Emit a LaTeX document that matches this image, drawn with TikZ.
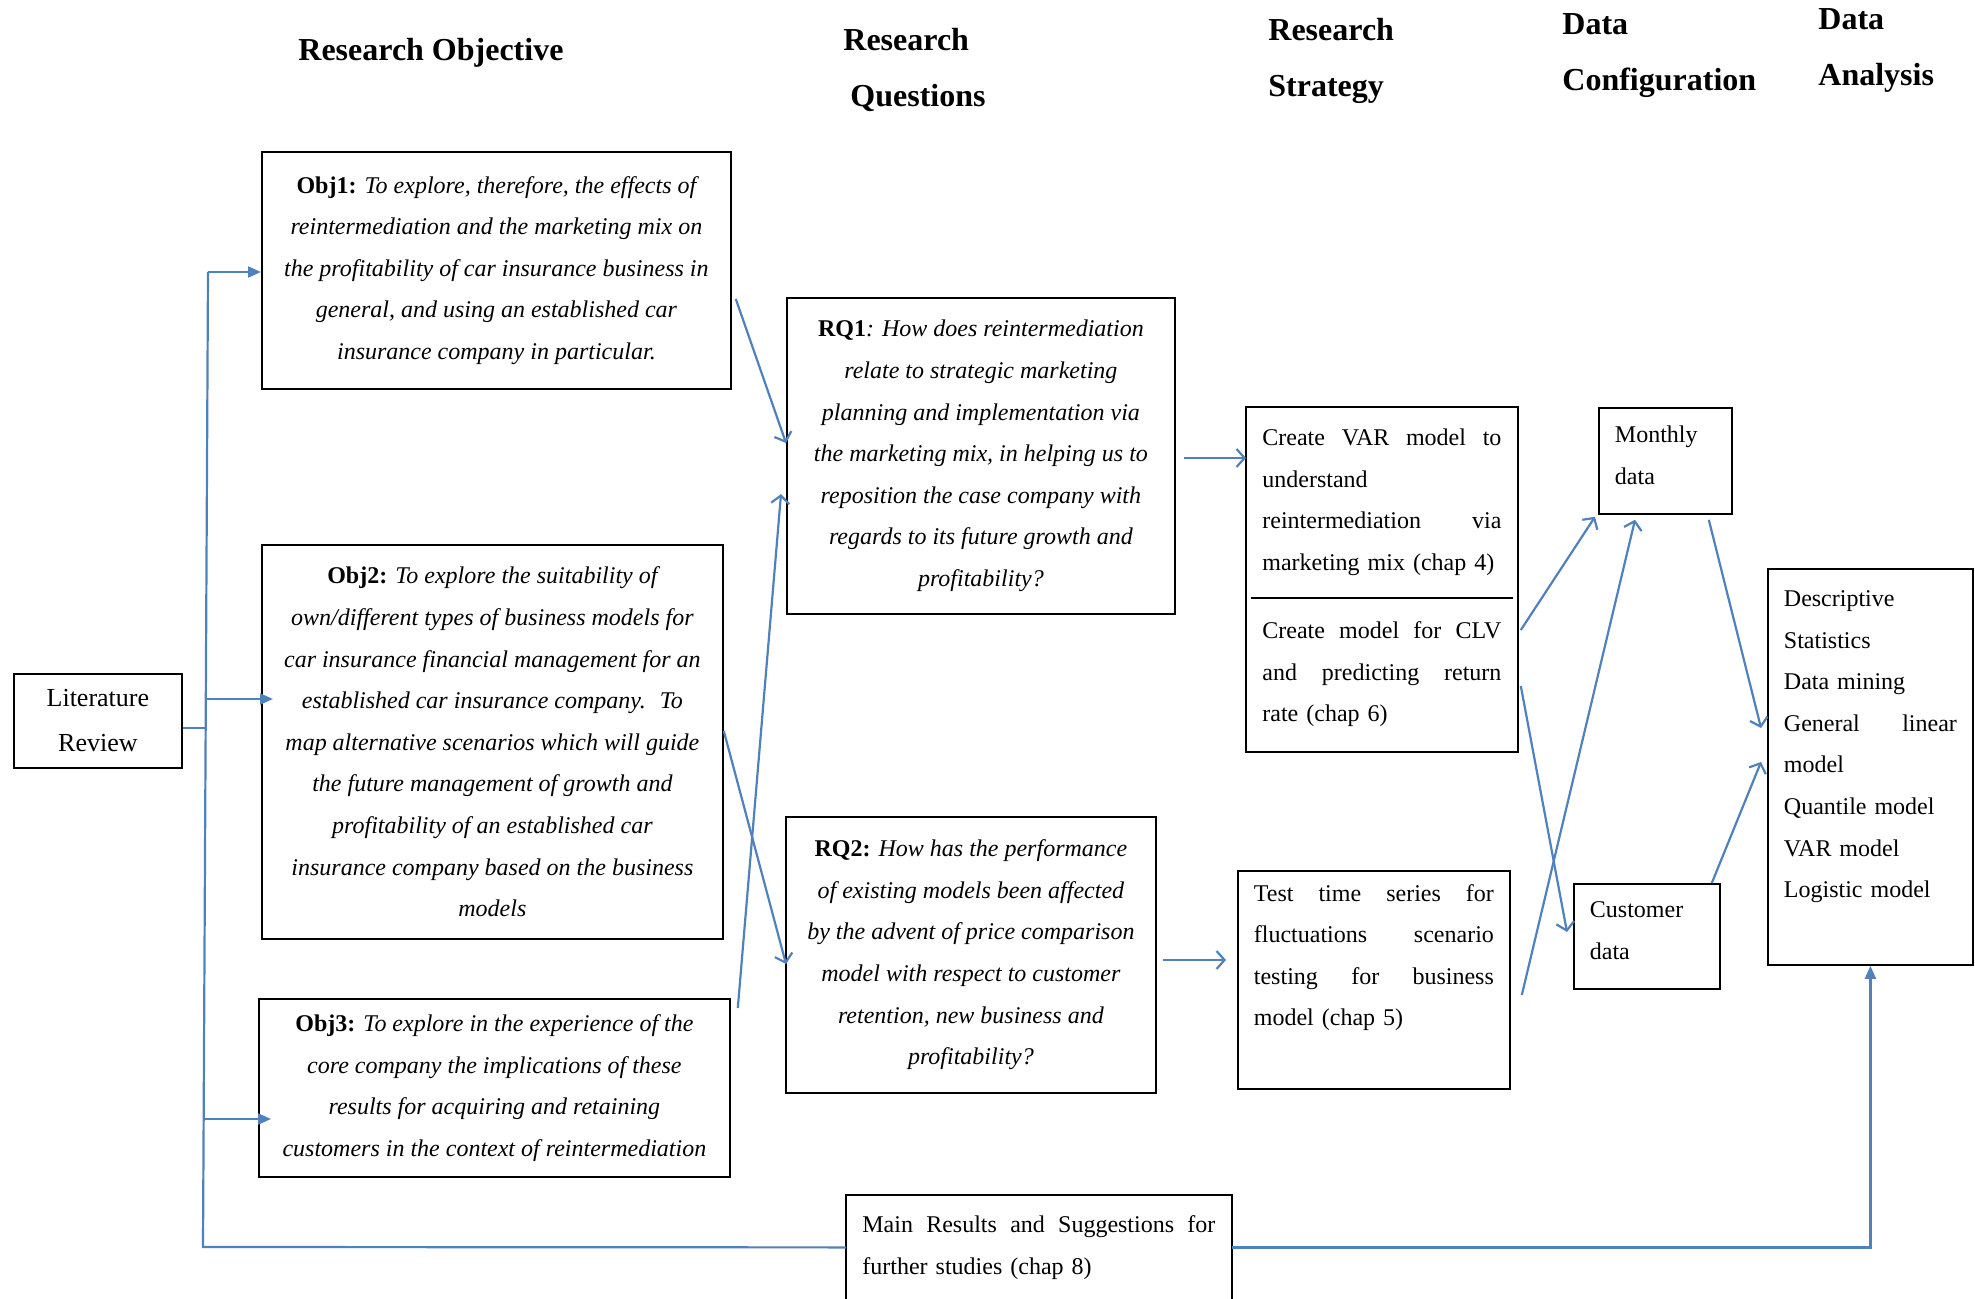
\documentclass[tikz,border=0pt]{standalone}
\usepackage{fontspec}
\setmainfont{Liberation Serif}
\usetikzlibrary{arrows.meta,calc}
\definecolor{linkblue}{RGB}{79,129,189}
\newcommand{\bodyfont}{\fontsize{12}{20.8}\selectfont}
\newcommand{\headfont}{\fontsize{16}{28}\selectfont\bfseries}
\tikzset{
    heading/.style={anchor=west, align=left, inner sep=0pt, font=\headfont},
    box/.style={draw, line width=0.9pt, anchor=north west, inner sep=0pt, align=center, font=\bodyfont},
    textbox/.style={anchor=north west, inner xsep=8pt, inner ysep=0pt, align=left, text width=#1, font=\bodyfont},
    tbox/.style={textbox=#1, draw, line width=0.9pt},
    link/.style={draw=linkblue, line width=1.1pt},
    openarrow/.style={link, -{Straight Barb[length=4pt,width=9pt]}},
    fillarrow/.style={link, -{Triangle[length=6.5pt,width=5.5pt]}}
}
\begin{document}
\begin{tikzpicture}[x=0.5pt, y=-0.5pt]
\useasboundingbox (0,0) rectangle (1975,1299);
\node[heading] (hobj) at (298,53) {Research Objective};
\node[heading] (hrq) at (843,70) {Research\\\hspace*{3.5pt}Questions};
\node[heading] (hstr) at (1268,61) {Research\\Strategy};
\node[heading] (hconf) at (1562,56) {Data\\Configuration};
\node[heading] (hana) at (1818,50) {Data\\Analysis};

\node[box, minimum width=84pt, minimum height=47pt, font=\fontsize{13}{22.5}\selectfont] (lit) at (13,673) {Literature\\Review};

\node[box, minimum width=234.5pt, minimum height=118.5pt, font=\bodyfont\itshape] (obj1) at (261,151)
  {\textbf{\upshape Obj1:} To explore, therefore, the effects of\\reintermediation and the marketing mix on\\the profitability of car insurance business in\\general, and using an established car\\insurance company in particular.};
\node[box, minimum width=230.5pt, minimum height=197pt, font=\bodyfont\itshape] (obj2) at (261,544)
  {\textbf{\upshape Obj2:} To explore the suitability of\\own/different types of business models for\\car insurance financial management for an\\established car insurance company.~ To\\map alternative scenarios which will guide\\the future management of growth and\\profitability of an established car\\insurance company based on the business\\models};
\node[box, minimum width=235.5pt, minimum height=89pt, font=\bodyfont\itshape] (obj3) at (258,998)
  {\textbf{\upshape Obj3:} To explore in the experience of the\\core company the implications of these\\results for acquiring and retaining\\customers in the context of reintermediation};

\node[box, minimum width=194pt, minimum height=158pt, font=\bodyfont\itshape] (rq1) at (786,297)
  {\textbf{\upshape RQ1}: How does reintermediation\\relate to strategic marketing\\planning and implementation via\\the marketing mix, in helping us to\\reposition the case company with\\regards to its future growth and\\profitability?};
\node[box, minimum width=185pt, minimum height=138pt, font=\bodyfont\itshape] (rq2) at (785,816)
  {\textbf{\upshape RQ2:} How has the performance\\of existing models been affected\\by the advent of price comparison\\model with respect to customer\\retention, new business and\\profitability?};

\node[textbox=119.5pt, minimum height=95pt] (strattop) at (1246,407)
  {Create\hfill VAR\hfill model\hfill to\\understand\\reintermediation\hfill via\\\mbox{marketing mix (chap 4)}};
\node[textbox=119.5pt, minimum height=77pt] (stratbot) at (1246,597)
  {Create\hfill model\hfill for\hfill CLV\\and\hfill predicting\hfill return\\rate (chap 6)};
\draw[line width=0.9pt] (strattop.north west) rectangle (stratbot.south east);
\draw[line width=1.2pt] ($(strattop.south west)+(5,0)$) -- ($(strattop.south east)+(-5,0)$);
\node[tbox=120pt, minimum height=109pt] (strat2) at (1237,870)
  {Test\hfill time\hfill series\hfill for\\fluctuations\hfill scenario\\testing\hfill for\hfill business\\model (chap 5)\\[4pt]\mbox{}};

\node[tbox=50.5pt, minimum height=53pt] (monthly) at (1598,407) {Monthly\\data\\[-14.8pt]\mbox{}};
\node[tbox=57pt, minimum height=52.5pt] (customer) at (1573,883) {Customer\\data\\[-14.8pt]\mbox{}};
\node[tbox=86.5pt, minimum height=198pt] (analysis) at (1767,568)
  {Descriptive\\Statistics\\Data mining\\General\hfill linear\\model\\Quantile model\\VAR model\\Logistic model\\[2pt]\mbox{}};

\node[textbox=176.5pt, minimum height=52pt] (res) at (846,1195)
  {Main\hfill Results\hfill and\hfill Suggestions\hfill for\\further studies (chap 8)};
\draw[line width=0.9pt] (res.south west) |- (res.north east) -- (res.south east);

\coordinate (ttop) at (208,272);
\coordinate (tlit) at (205.6,728);
\coordinate (t2) at (205.6,699);
\coordinate (t3) at (204.5,1119);
\coordinate (tbot) at (203,1247);
\draw[link] (ttop) -- (tbot) -- (res.west);
\draw[link] ($(lit.north east)+(0,55)$) -- (tlit);
\draw[fillarrow] (ttop) -- (obj1.west |- ttop);
\draw[fillarrow] (t2) -- ($(obj2.north west)+(12,155)$);
\draw[fillarrow] (t3) -- ($(obj3.north west)+(13,121)$);
\draw[fillarrow] (res.east) -- (res.east -| analysis.south) -- (analysis.south);

\draw[openarrow] ($(obj1.north east)+(4,148)$) -- ($(rq1.north west)+(0,146)$);
\draw[openarrow] ($(obj2.north east)+(0,187)$) -- ($(rq2.north west)+(1,148)$);
\draw[openarrow] ($(obj3.north east)+(7,10)$) -- ($(rq1.north west)+(-5,197)$);
\draw[openarrow] ($(rq1.north east)+(8,161)$) -- ($(strattop.north west)+(0,51)$);
\draw[openarrow] ($(rq2.north east)+(6,144)$) -- ($(strat2.north west)+(-11,90)$);
\draw[openarrow] ($(stratbot.north east)+(3,33)$) -- ($(monthly.south west)+(-3,2)$);
\draw[openarrow] ($(stratbot.north east)+(3,89)$) -- ($(customer.north west)+(-6,49)$);
\draw[openarrow] ($(strat2.north east)+(11,125)$) -- ($(monthly.south west)+(37,5)$);
\draw[openarrow] ($(monthly.south east)+(-24,5)$) -- ($(analysis.north west)+(-6,160)$);
\draw[openarrow] ($(customer.north east)+(-9,0)$) -- ($(analysis.north west)+(-6,194)$);
\end{tikzpicture}
\end{document}
